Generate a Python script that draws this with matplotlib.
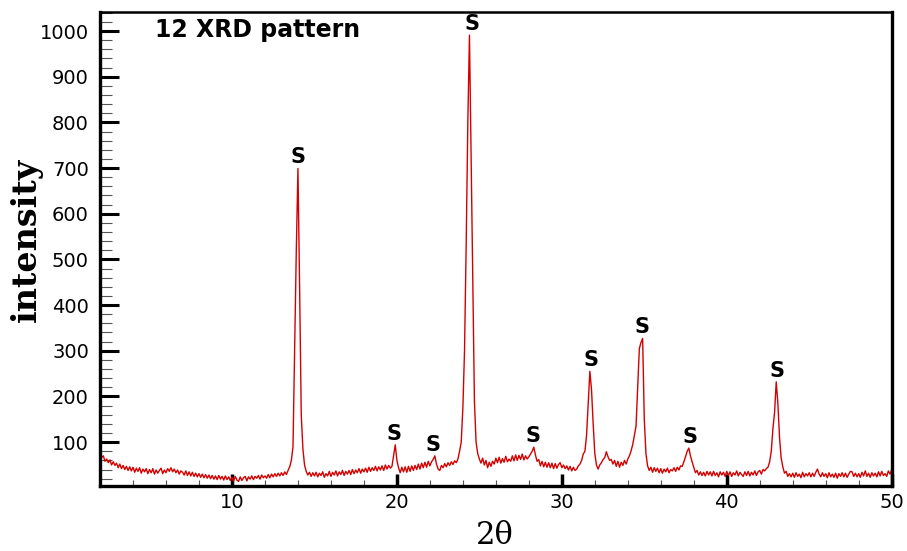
import numpy as np
import matplotlib
matplotlib.use('Agg')
import matplotlib.pyplot as plt
from matplotlib.ticker import MultipleLocator

# XRD scan, 2-theta from 2 to 50 deg in 0.1 deg steps (one row per degree)
two_theta = np.linspace(2, 50, 481)
counts = [
    84, 66, 70, 58, 63, 55, 61, 50, 57, 49,          # 2
    54, 44, 52, 42, 49, 40, 47, 38, 46, 37,          # 3
    45, 34, 43, 36, 44, 32, 41, 35, 42, 31,          # 4
    40, 33, 42, 30, 39, 32, 38, 43, 31, 39,          # 5
    33, 42, 36, 44, 35, 41, 33, 39, 30, 37,          # 6
    34, 28, 37, 27, 35, 26, 34, 25, 32, 24,          # 7
    31, 23, 30, 22, 29, 21, 28, 20, 27, 19,          # 8
    26, 18, 27, 19, 25, 17, 26, 18, 24, 16,          # 9
    23, 15, 25, 17, 14, 24, 16, 22, 25, 15,          # 10
    24, 19, 26, 18, 25, 21, 27, 19, 28, 22,          # 11
    26, 21, 29, 22, 30, 24, 31, 25, 32, 26,          # 12
    33, 27, 35, 29, 38, 46, 60, 90, 300, 520,        # 13
    699, 440, 160, 85, 50, 36, 28, 34, 25, 33,       # 14
    26, 34, 24, 32, 27, 35, 23, 31, 26, 36,          # 15
    25, 34, 28, 37, 26, 35, 29, 38, 27, 36,          # 16
    30, 38, 29, 40, 31, 39, 33, 42, 32, 41,          # 17
    35, 43, 34, 45, 36, 44, 38, 47, 37, 46,          # 18
    39, 48, 38, 50, 41, 49, 43, 47, 70, 94,          # 19
    60, 44, 33, 45, 35, 46, 34, 47, 36, 48,          # 20
    38, 49, 40, 52, 41, 54, 44, 56, 45, 58,          # 21
    48, 57, 62, 70, 52, 41, 38, 49, 44, 53,          # 22
    46, 55, 49, 57, 51, 59, 55, 63, 80, 100,         # 23
    175, 300, 530, 800, 991, 720, 440, 190, 100, 75, # 24
    63, 54, 65, 50, 60, 44, 56, 47, 58, 52,          # 25
    65, 55, 67, 54, 64, 56, 69, 57, 63, 58,          # 26
    70, 59, 72, 60, 71, 62, 74, 61, 70, 63,          # 27
    68, 74, 80, 89, 72, 58, 62, 48, 58, 46,          # 28
    56, 45, 55, 44, 54, 42, 53, 43, 51, 55,          # 29
    44, 50, 42, 48, 39, 47, 37, 45, 38, 41,          # 30
    48, 52, 60, 74, 80, 115, 185, 255, 215, 140,     # 31
    75, 50, 41, 50, 55, 62, 66, 79, 68, 60,          # 32
    62, 52, 60, 47, 58, 45, 56, 49, 60, 52,          # 33
    63, 70, 81, 95, 115, 135, 220, 305, 318, 327,    # 34
    150, 75, 48, 38, 45, 34, 44, 36, 43, 33,         # 35
    42, 32, 41, 35, 43, 33, 40, 37, 44, 36,          # 36
    45, 39, 48, 47, 57, 68, 80, 87, 70, 57,          # 37
    45, 33, 38, 28, 35, 27, 34, 26, 36, 28,          # 38
    35, 26, 36, 27, 33, 24, 35, 28, 34, 25,          # 39
    36, 27, 35, 25, 33, 28, 37, 26, 34, 29,          # 40
    25, 35, 27, 36, 26, 34, 28, 37, 27, 35,          # 41
    38, 30, 40, 37, 42, 45, 57, 80, 130, 165,        # 42
    232, 185, 110, 65, 46, 32, 36, 25, 31, 24,       # 43
    32, 23, 33, 25, 30, 22, 34, 24, 31, 26,          # 44
    33, 24, 32, 25, 34, 41, 30, 24, 33, 25,          # 45
    31, 22, 33, 24, 30, 23, 32, 21, 31, 25,          # 46
    33, 24, 32, 23, 30, 36, 35, 25, 32, 24,          # 47
    31, 23, 34, 26, 37, 25, 32, 23, 33, 26,          # 48
    32, 24, 35, 26, 36, 27, 31, 25, 37, 30,          # 49
    40,                                              # 50
]
counts = np.array(counts)

# reflections marked with "S"
peak_2theta = [14.0, 19.8, 22.2, 24.55, 28.25, 31.75, 34.85, 37.75, 43.05]
peak_tag = 'S'

fig = plt.figure(figsize=(9.07, 5.51), dpi=100)
ax = fig.add_axes([0.1103, 0.118, 0.8728, 0.8597])

ax.plot(two_theta, counts, color='#d40000', lw=1.0)

# tag each reflection just above its maximum
for p in peak_2theta:
    near = np.abs(two_theta - p) <= 0.2
    top = counts[near].max()
    ax.annotate(peak_tag, xy=(p, top), xytext=(0, 8), textcoords='offset points',
                ha='center', va='center', fontsize=15, fontweight='bold')

ax.text(0.07, 0.962, '12 XRD pattern', transform=ax.transAxes,
        ha='left', va='center', fontsize=17, fontweight='bold')

ax.set_xlim(2, 50)
ax.set_ylim(4, 1041)
ax.xaxis.set_major_locator(MultipleLocator(10))
ax.xaxis.set_minor_locator(MultipleLocator(2))
ax.yaxis.set_major_locator(MultipleLocator(100))
ax.yaxis.set_minor_locator(MultipleLocator(20))

ax.tick_params(axis='y', which='major', direction='in', length=14, width=2.2,
               labelsize=14, pad=8, right=False)
ax.tick_params(axis='y', which='minor', direction='in', length=8.5, width=0.8,
               color='#555555', right=False)
ax.tick_params(axis='x', which='major', direction='in', length=9, width=2.5,
               labelsize=14, pad=5, top=False)
ax.tick_params(axis='x', which='minor', direction='in', length=4.5, width=0.8,
               color='#555555', top=False)

for side in ['left', 'bottom', 'right']:
    ax.spines[side].set_linewidth(2.4)
ax.spines['top'].set_linewidth(1.8)

ax.set_xlabel('2θ', fontfamily='DejaVu Serif', fontsize=22)
ax.xaxis.set_label_coords(0.498, -0.072)
ax.set_ylabel('intensity', fontfamily='DejaVu Serif', fontweight='bold', fontsize=24)
ax.yaxis.set_label_coords(-0.072, 0.519)

fig.savefig('out.png', dpi=100)
